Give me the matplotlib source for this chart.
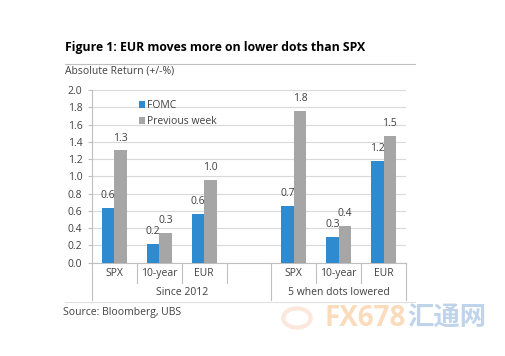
import numpy as np
import matplotlib.pyplot as plt
import matplotlib.transforms as mtransforms

plt.rcParams['font.family'] = ['Open Sans', 'DejaVu Sans']

# Data
categories = ['SPX', '10-year', 'EUR', '', 'SPX', '10-year', 'EUR']
groups = ['Since 2012', '5 when dots lowered']
fomc = [0.63, 0.22, 0.56, np.nan, 0.66, 0.30, 1.18]
previous_week = [1.30, 0.34, 0.96, np.nan, 1.76, 0.42, 1.47]

blue = '#2E8BCF'
grey = '#A6A6A6'
text_col = '#404040'
line_col = '#BFBFBF'

fig = plt.figure(figsize=(5.06, 3.56), dpi=100)
ax = fig.add_axes([92 / 506, 1 - 262.7 / 356, 314 / 506, 172.7 / 356])

x = np.arange(len(categories))
w = 0.28
b1 = ax.bar(x - w / 2, fomc, w, color=blue, label='FOMC', zorder=3)
b2 = ax.bar(x + w / 2, previous_week, w, color=grey, label='Previous week', zorder=3)
ax.bar_label(b1, fmt='%.1f', padding=5, fontsize=7.5, color=text_col)
ax.bar_label(b2, fmt='%.1f', padding=5, fontsize=7.5, color=text_col)

ax.set_xlim(-0.5, 6.5)
ax.set_ylim(0, 2.0)
ax.set_yticks(np.arange(0, 2.01, 0.2))
ax.set_yticklabels([f'{v:.1f}' for v in np.arange(0, 2.01, 0.2)])
ax.tick_params(axis='y', labelsize=7.5, colors=text_col, length=3, width=0.8, pad=4)
ax.tick_params(axis='y', color=line_col)
ax.set_xticks([])
ax.grid(axis='y', color='#D9D9D9', lw=0.8, zorder=0)
for s in ['top', 'right']:
    ax.spines[s].set_visible(False)
ax.spines['left'].set_color(line_col)
ax.spines['bottom'].set_color(line_col)

# category and group labels under the axis
trans = mtransforms.blended_transform_factory(ax.transData, ax.transAxes)
for i, c in enumerate(categories):
    ax.text(i, -0.065, c, transform=trans, ha='center', va='center',
            fontsize=7.5, color=text_col)
for b in [0.5, 1.5, 2.5, 4.5, 5.5]:
    ax.plot([b, b], [0, -0.118], transform=trans, color=line_col, lw=0.8, clip_on=False)
for b in [-0.5, 3.5, 6.5]:
    ax.plot([b, b], [0, -0.216], transform=trans, color=line_col, lw=0.8, clip_on=False)
ax.text(1.5, -0.175, groups[0], transform=trans, ha='center', va='center',
        fontsize=7.5, color=text_col)
ax.text(5.0, -0.175, groups[1], transform=trans, ha='center', va='center',
        fontsize=7.5, color=text_col)

leg = ax.legend(loc='upper left', bbox_to_anchor=(0.12, 0.995), frameon=False,
                fontsize=7.5, handlelength=0.6, handleheight=0.6,
                handletextpad=0.2, labelspacing=0.5)
for t in leg.get_texts():
    t.set_color(text_col)

# title, header and footer
fig.text(65 / 506, 1 - 48 / 356, 'Figure 1: EUR moves more on lower dots than SPX',
         fontsize=8.8, fontweight='bold', color='black', va='center', ha='left')
fig.add_artist(plt.Line2D([65 / 506, 415 / 506], [1 - 64 / 356] * 2, color=line_col, lw=0.8))
fig.text(65 / 506, 1 - 71 / 356, 'Absolute Return (+/-%)', fontsize=7.5,
         color=text_col, va='center', ha='left')
fig.add_artist(plt.Line2D([65 / 506, 415 / 506], [1 - 302 / 356] * 2, color='#E0E0E0', lw=0.8))
fig.text(63 / 506, 1 - 312 / 356, 'Source: Bloomberg, UBS', fontsize=7.5,
         color=text_col, va='center', ha='left')

# faint watermark
fig.text(325 / 506, 1 - 318 / 356, 'FX678', fontsize=20, fontweight='bold',
         color='#F5B06A', alpha=0.45, va='center', ha='left')
fig.text(407 / 506, 1 - 318 / 356, '汇通网', fontsize=19, fontweight='bold',
         family=['Noto Sans CJK SC', 'DejaVu Sans'],
         color='#4A86C5', alpha=0.35, va='center', ha='left')
fig.add_artist(plt.Circle((297 / 506, 1 - 318 / 356), 0.027, transform=fig.transFigure,
                          fill=False, lw=3, color='#F0A070', alpha=0.25))

fig.savefig('out.png', dpi=100)
